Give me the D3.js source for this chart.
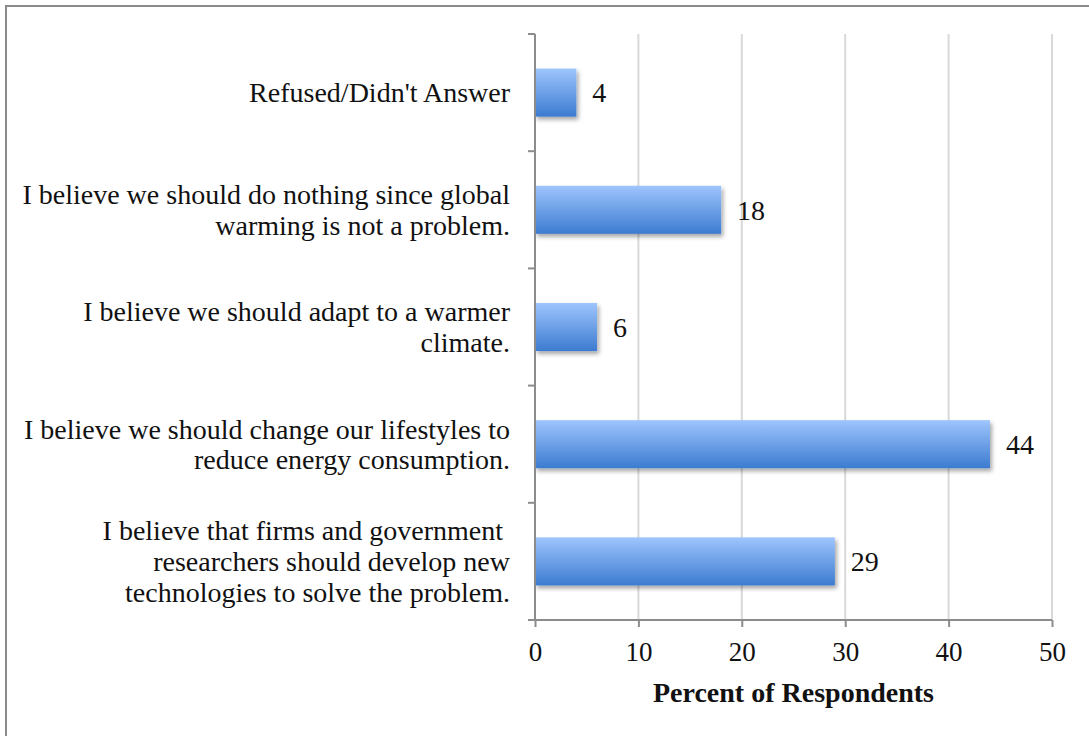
<!DOCTYPE html>
<html>
<head>
<meta charset="utf-8">
<script src="https://cdn.jsdelivr.net/npm/d3@7"></script>
<style>
  html, body { margin: 0; padding: 0; background: #fff; }
  svg text { font-family: "Liberation Serif", "DejaVu Serif", serif; fill: #111; }
</style>
</head>
<body>
<div id="chart"></div>
<script>
// survey answers, top to bottom as drawn
const categories = [
    ["Refused/Didn't Answer"],
    ["I believe we should do nothing since global", "warming is not a problem."],
    ["I believe we should adapt to a warmer", "climate."],
    ["I believe we should change our lifestyles to", "reduce energy consumption."],
    ["I believe that firms and government ", "researchers should develop new", "technologies to solve the problem."]
];

const percents = [4, 18, 6, 44, 29];

const xTicks = [0, 10, 20, 30, 40, 50];

const xTitle = "Percent of Respondents";

const W = 1089, H = 736;

let margin = { top: 34, right: 37, bottom: 116, left: 535 },
    width = W - margin.left - margin.right,
    height = H - margin.top - margin.bottom;

let svg = d3.select("#chart").
    append("svg").
    attr("width", W).
    attr("height", H);

// frame round the chart (only top and left edges show)
svg.append("path").
    attr("d", "M6,736 L6,6 L1089,6").
    attr("fill", "none").
    attr("stroke", "#8a8a8a").
    attr("stroke-width", 2);

let defs = svg.append("defs");

let grad = defs.append("linearGradient").
    attr("id", "barGrad").
    attr("x1", 0).attr("y1", 0).attr("x2", 0).attr("y2", 1);
grad.append("stop").attr("offset", "0%").attr("stop-color", "#9ec5fd");
grad.append("stop").attr("offset", "100%").attr("stop-color", "#3c7bd0");

let shadow = defs.append("filter").
    attr("id", "barShadow").
    attr("x", "-10%").attr("y", "-20%").
    attr("width", "130%").attr("height", "160%");
shadow.append("feDropShadow").
    attr("dx", 2).attr("dy", 3).
    attr("stdDeviation", 2.2).
    attr("flood-color", "#000").
    attr("flood-opacity", 0.35);

let g = svg.append("g").
    attr("transform", "translate(" + margin.left + "," + margin.top + ")");

let xScale = d3.scaleLinear().
    domain([0, 50]).
    range([0, width]);

let yScale = d3.scaleBand().
    domain(d3.range(categories.length)).
    range([0, height]).
    paddingInner(0.59).
    paddingOuter(0.295);

// vertical gridlines
g.append("g").
    selectAll("line").
    data(xTicks.slice(1)).
    enter().
    append("line").
    attr("x1", d => xScale(d)).
    attr("x2", d => xScale(d)).
    attr("y1", 0).
    attr("y2", height).
    attr("stroke", "#d9d9d9").
    attr("stroke-width", 2);

// bars
g.append("g").
    selectAll("rect").
    data(percents).
    enter().
    append("rect").
    attr("x", 0).
    attr("y", (d, i) => yScale(i)).
    attr("width", d => xScale(d)).
    attr("height", yScale.bandwidth()).
    attr("fill", "url(#barGrad)").
    attr("filter", "url(#barShadow)");

// value labels
g.append("g").
    selectAll("text").
    data(percents).
    enter().
    append("text").
    attr("x", d => xScale(d) + 16).
    attr("y", (d, i) => yScale(i) + yScale.bandwidth() / 2).
    attr("dy", "0.35em").
    style("font-size", "28px").
    text(d => d);

// x axis
let xAxis = g.append("g").
    attr("transform", "translate(0," + height + ")").
    call(d3.axisBottom(xScale).tickValues(xTicks).tickSize(7).tickPadding(15));
xAxis.select(".domain").attr("stroke", "#8c8c8c").attr("stroke-width", 2).
    attr("d", "M-7,0H" + width);
xAxis.selectAll(".tick line").attr("stroke", "#8c8c8c").attr("stroke-width", 2);
xAxis.selectAll(".tick text").
    style("font-size", "27px").
    style("font-family", "'Liberation Serif', serif").
    attr("fill", "#111");

// y axis line with ticks at the band edges
let bandEdges = d3.range(categories.length + 1).map(i => i * height / categories.length);
g.append("line").
    attr("x1", 0).attr("x2", 0).
    attr("y1", 0).attr("y2", height).
    attr("stroke", "#8c8c8c").
    attr("stroke-width", 2);
g.append("g").
    selectAll("line").
    data(bandEdges).
    enter().
    append("line").
    attr("x1", -7).attr("x2", 0).
    attr("y1", d => d).attr("y2", d => d).
    attr("stroke", "#8c8c8c").
    attr("stroke-width", 2);

// category labels, right aligned
const lineGap = 31;
let labels = g.append("g").
    selectAll("text").
    data(categories).
    enter().
    append("text").
    attr("text-anchor", "end").
    style("font-size", "28px").
    attr("transform", (d, i) => "translate(-25," +
        (yScale(i) + yScale.bandwidth() / 2 - (d.length - 1) * lineGap / 2) + ")");

labels.selectAll("tspan").
    data(d => d).
    enter().
    append("tspan").
    attr("x", 0).
    attr("y", (d, j) => j * lineGap).
    attr("dy", "0.35em").
    attr("xml:space", "preserve").
    style("white-space", "pre").
    text(d => d);

// axis title
g.append("text").
    attr("x", width / 2).
    attr("y", height + 82).
    attr("text-anchor", "middle").
    style("font-size", "28px").
    style("font-weight", "bold").
    text(xTitle);
</script>
</body>
</html>
